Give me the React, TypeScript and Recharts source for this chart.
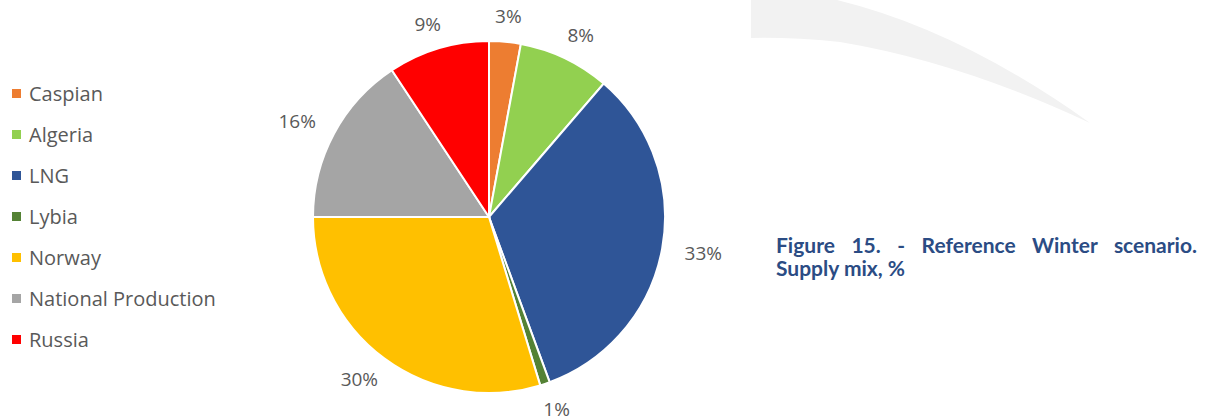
import React from 'react';
import { PieChart, Pie, Cell, Customized } from 'recharts';

const categories = ['Caspian', 'Algeria', 'LNG', 'Lybia', 'Norway', 'National Production', 'Russia'];
const shares = [2.9, 8.4, 33.1, 0.9, 29.7, 15.7, 9.3];
const colors = ['#ED7D31', '#92D050', '#2F5597', '#548235', '#FFC000', '#A5A5A5', '#FF0000'];
const captionLine1 = 'Figure 15. - Reference Winter scenario.';
const captionLine2 = 'Supply mix, %';

const data = categories.map((name, i) => ({ name, value: shares[i] }));

const RAD = Math.PI / 180;

const renderLabel = (props: any) => {
  const { cx, cy, midAngle, outerRadius, value } = props;
  const txt = `${Math.round(value)}%`;
  const w = txt.length * 10.5;
  const c = Math.cos(-midAngle * RAD);
  const s = Math.sin(-midAngle * RAD);
  const r = outerRadius + 22;
  const x = cx + r * c + c * (w / 2 + 4);
  const y = cy + r * s + s * 4;
  return (
    <text x={x} y={y} fill="#595959" fontSize={19} fontFamily="'Open Sans', sans-serif" textAnchor="middle" dominantBaseline="central">
      {txt}
    </text>
  );
};

const Swoosh = () => (
  <path d="M751,0 L837,0 Q960,30 1090,123 Q960,62 840,42 Q790,37 751,38 Z" fill="#F2F2F2" />
);

export default function App() {
  return (
    <div style={{ position: 'relative', width: 1206, height: 418, background: '#fff' }}>
      <style>{`body{margin:0}`}</style>
      <PieChart width={1206} height={418} margin={{ top: 0, right: 0, bottom: 0, left: 0 }}>
        <Customized component={Swoosh} />
        <Pie
          data={data}
          dataKey="value"
          nameKey="name"
          cx={489}
          cy={217}
          outerRadius={176}
          startAngle={90}
          endAngle={-270}
          stroke="#ffffff"
          strokeWidth={2}
          label={renderLabel}
          labelLine={false}
          isAnimationActive={false}
        >
          {data.map((d, i) => (
            <Cell key={d.name} fill={colors[i]} />
          ))}
        </Pie>
      </PieChart>
      <div
        style={{
          position: 'absolute',
          left: 12,
          top: 73,
          fontFamily: "'Open Sans', sans-serif",
          fontSize: 20,
          color: '#595959',
        }}
      >
        {data.map((d, i) => (
          <div key={d.name} style={{ display: 'flex', alignItems: 'center', height: 41 }}>
            <span style={{ display: 'inline-block', width: 9, height: 9, background: colors[i], marginRight: 8 }} />
            <span>{d.name}</span>
          </div>
        ))}
      </div>
      <div
        style={{
          position: 'absolute',
          left: 776,
          top: 233,
          width: 421,
          fontFamily: 'Lato, sans-serif',
          fontWeight: 700,
          fontSize: 21,
          lineHeight: '23px',
          color: '#2B4C84',
        }}
      >
        <div style={{ textAlign: 'justify', textAlignLast: 'justify' as any }}>{captionLine1}</div>
        <div>{captionLine2}</div>
      </div>
    </div>
  );
}
